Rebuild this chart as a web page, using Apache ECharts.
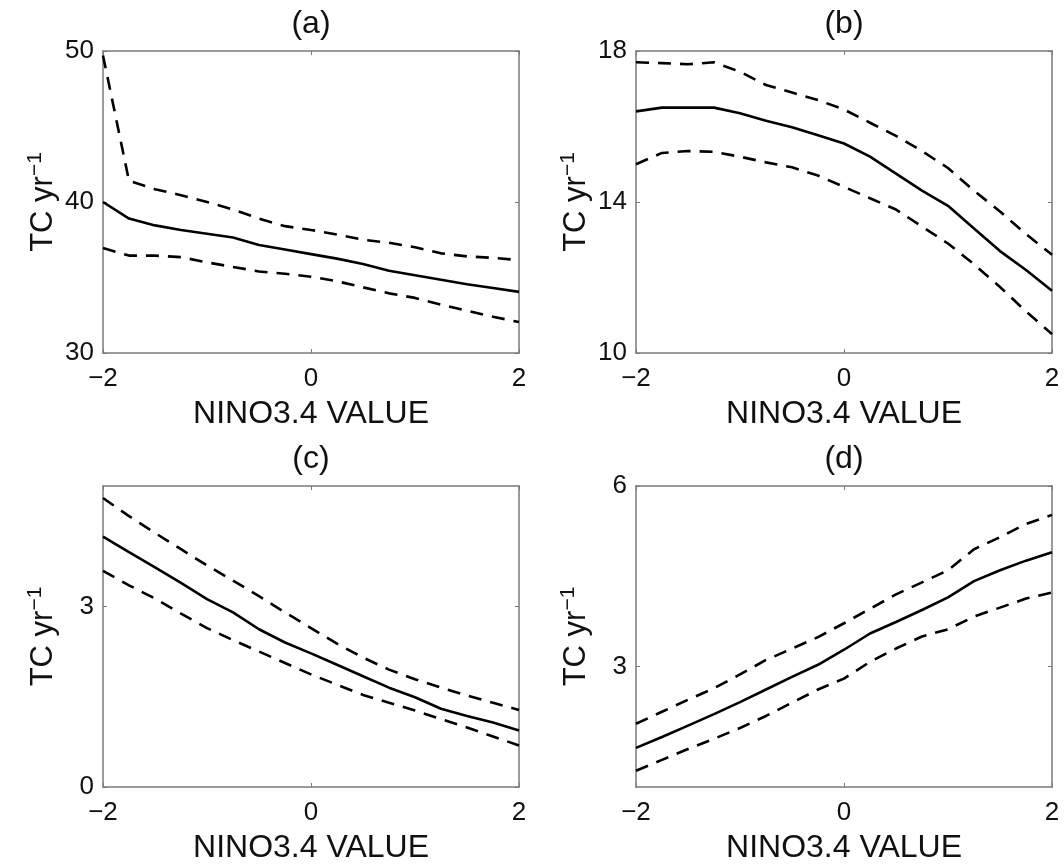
<!DOCTYPE html>
<html>
<head>
<meta charset="utf-8">
<script src="https://cdn.jsdelivr.net/npm/echarts@6/dist/echarts.min.js"></script>
<style>
html,body{margin:0;padding:0;background:#fff;}
#chart{width:1064px;height:865px;}
</style>
</head>
<body>
<div id="chart"></div>
<script>
// NINO3.4 values (x)
var nino = [-2, -1.75, -1.5, -1.25, -1, -0.75, -0.5, -0.25, 0, 0.25, 0.5, 0.75, 1, 1.25, 1.5, 1.75, 2];

// Panel (a)
var aMid   = [40.0, 38.9, 38.45, 38.15, 37.9, 37.65, 37.15, 36.85, 36.55, 36.25, 35.9, 35.45, 35.15, 34.85, 34.55, 34.3, 34.05];
var aUpper = [49.7, 41.4, 40.85, 40.45, 40.0, 39.5, 38.9, 38.4, 38.15, 37.85, 37.5, 37.3, 37.0, 36.6, 36.4, 36.3, 36.15];
var aLower = [36.95, 36.45, 36.45, 36.35, 36.0, 35.7, 35.4, 35.25, 35.05, 34.75, 34.35, 33.95, 33.65, 33.2, 32.8, 32.4, 32.05];

// Panel (b)
var bMid   = [16.4, 16.5, 16.5, 16.5, 16.35, 16.15, 15.98, 15.77, 15.55, 15.2, 14.75, 14.3, 13.9, 13.3, 12.7, 12.2, 11.65];
var bUpper = [17.7, 17.68, 17.65, 17.7, 17.45, 17.1, 16.9, 16.7, 16.45, 16.1, 15.75, 15.35, 14.9, 14.3, 13.75, 13.15, 12.6];
var bLower = [15.0, 15.3, 15.35, 15.33, 15.2, 15.05, 14.92, 14.7, 14.4, 14.1, 13.8, 13.35, 12.9, 12.35, 11.75, 11.1, 10.5];

// Panel (c)
var cMid   = [4.16, 3.9, 3.65, 3.39, 3.12, 2.9, 2.62, 2.4, 2.22, 2.03, 1.84, 1.65, 1.49, 1.3, 1.18, 1.07, 0.94];
var cUpper = [4.8, 4.5, 4.22, 3.95, 3.68, 3.43, 3.17, 2.9, 2.64, 2.38, 2.15, 1.95, 1.79, 1.65, 1.52, 1.4, 1.28];
var cLower = [3.59, 3.35, 3.13, 2.88, 2.64, 2.44, 2.25, 2.06, 1.87, 1.7, 1.53, 1.4, 1.27, 1.13, 0.99, 0.84, 0.69];

// Panel (d)
var dMid   = [1.65, 1.83, 2.02, 2.21, 2.41, 2.62, 2.83, 3.03, 3.28, 3.55, 3.74, 3.94, 4.15, 4.42, 4.6, 4.76, 4.9];
var dUpper = [2.05, 2.25, 2.45, 2.64, 2.87, 3.11, 3.3, 3.49, 3.72, 3.96, 4.2, 4.4, 4.6, 4.95, 5.15, 5.37, 5.52];
var dLower = [1.27, 1.45, 1.63, 1.8, 1.98, 2.18, 2.4, 2.62, 2.8, 3.08, 3.3, 3.5, 3.62, 3.83, 3.98, 4.13, 4.23];

// Tick values
var xTicks = [-2, 0, 2];
var aTicks = [30, 40, 50];
var bTicks = [10, 14, 18];
var cTicks = [0, 3];
var dTicks = [3, 6];

// Axis ranges
var yRanges = [[30, 50], [10, 18], [0, 5], [1, 6]];
var panelTitles = ['(a)', '(b)', '(c)', '(d)'];
var xName = 'NINO3.4 VALUE';

var FONT = 'Liberation Sans, Arial, Helvetica, sans-serif';
var BOX = '#7a7a7a';

var panels = [
  {mid: aMid, up: aUpper, lo: aLower, ticks: aTicks},
  {mid: bMid, up: bUpper, lo: bLower, ticks: bTicks},
  {mid: cMid, up: cUpper, lo: cLower, ticks: cTicks},
  {mid: dMid, up: dUpper, lo: dLower, ticks: dTicks}
];

var grids = [
  {left: 103, top: 51, width: 416, height: 302},
  {left: 636, top: 51, width: 416, height: 302},
  {left: 103, top: 486, width: 416, height: 305},
  {left: 636, top: 486, width: 416, height: 305}
];

function fmt(v) { return v < 0 ? '\u2212' + Math.abs(v) : String(v); }
function pairs(vals) { return nino.map(function (x, i) { return [x, vals[i]]; }); }

var xAxes = [], yAxes = [], series = [], graphics = [];
grids.forEach(function (g, i) {
  var p = panels[i];
  var yr = yRanges[i];
  xAxes.push({
    gridIndex: i, type: 'value', min: -2, max: 2, position: 'bottom',
    name: xName, nameLocation: 'middle', nameGap: 45,
    nameTextStyle: {fontFamily: FONT, fontSize: 32, color: '#111'},
    axisLine: {show: true, onZero: false, lineStyle: {color: BOX, width: 1.5}},
    axisTick: {show: true, inside: true, length: 4, customValues: xTicks, lineStyle: {color: BOX}},
    axisLabel: {show: true, customValues: xTicks, margin: 13, formatter: fmt, fontFamily: FONT, fontSize: 26, color: '#111'},
    splitLine: {show: false}
  });
  xAxes.push({
    gridIndex: i, type: 'value', min: -2, max: 2, position: 'top',
    axisLine: {show: true, onZero: false, lineStyle: {color: BOX, width: 1.5}},
    axisTick: {show: true, inside: true, length: 4, customValues: xTicks, lineStyle: {color: BOX}},
    axisLabel: {show: false},
    splitLine: {show: false}
  });
  yAxes.push({
    gridIndex: i, type: 'value', min: yr[0], max: yr[1], position: 'left',
    name: '{m|TC yr}{s|\u22121}', nameLocation: 'middle', nameGap: 44, nameRotate: 90,
    nameTextStyle: {
      rich: {
        m: {fontFamily: FONT, fontSize: 31, color: '#111', lineHeight: 34, verticalAlign: 'bottom'},
        s: {fontFamily: FONT, fontSize: 21, color: '#111', lineHeight: 21, verticalAlign: 'top'}
      }
    },
    axisLine: {show: true, onZero: false, lineStyle: {color: BOX, width: 1.5}},
    axisTick: {show: true, inside: true, length: 4, customValues: p.ticks, lineStyle: {color: BOX}},
    axisLabel: {show: true, customValues: p.ticks, margin: 9, fontFamily: FONT, fontSize: 26, color: '#111'},
    splitLine: {show: false}
  });
  yAxes.push({
    gridIndex: i, type: 'value', min: yr[0], max: yr[1], position: 'right',
    axisLine: {show: true, onZero: false, lineStyle: {color: BOX, width: 1.5}},
    axisTick: {show: true, inside: true, length: 4, customValues: p.ticks, lineStyle: {color: BOX}},
    axisLabel: {show: false},
    splitLine: {show: false}
  });
  var xi = i * 2, yi = i * 2;
  var common = {type: 'line', xAxisIndex: xi, yAxisIndex: yi, showSymbol: false, symbol: 'none', silent: true, animation: false};
  series.push(Object.assign({}, common, {name: 'upper ' + i, data: pairs(p.up), lineStyle: {color: '#000', width: 2.6, type: [13, 9]}}));
  series.push(Object.assign({}, common, {name: 'mean ' + i, data: pairs(p.mid), lineStyle: {color: '#000', width: 2.6, type: 'solid'}}));
  series.push(Object.assign({}, common, {name: 'lower ' + i, data: pairs(p.lo), lineStyle: {color: '#000', width: 2.6, type: [13, 9]}}));
  graphics.push({
    type: 'text', x: g.left + g.width / 2, y: g.top - 27,
    style: {text: panelTitles[i], fontFamily: FONT, fontSize: 32, fill: '#111', align: 'center', verticalAlign: 'middle'}
  });
});

var chart = echarts.init(document.getElementById('chart'), null, {renderer: 'canvas'});
chart.setOption({
  backgroundColor: '#fff',
  animation: false,
  grid: grids,
  xAxis: xAxes,
  yAxis: yAxes,
  series: series,
  graphic: graphics
});
</script>
</body>
</html>
